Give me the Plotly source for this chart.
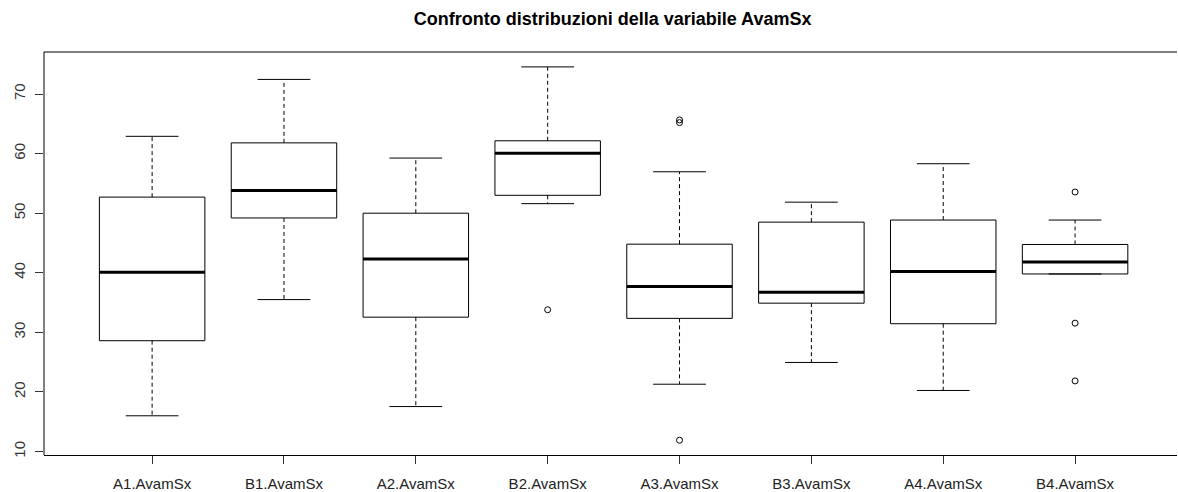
import plotly.graph_objects as go

# Summary statistics of AvamSx per group
categories = ["A1.AvamSx", "B1.AvamSx", "A2.AvamSx", "B2.AvamSx",
              "A3.AvamSx", "B3.AvamSx", "A4.AvamSx", "B4.AvamSx"]
whisker_low = [16.0, 35.5, 17.55, 51.6, 21.3, 24.95, 20.25, 39.8]
q1 = [28.6, 49.2, 32.55, 53.0, 32.35, 34.9, 31.45, 39.8]
median = [40.1, 53.8, 42.3, 60.05, 37.7, 36.75, 40.2, 41.8]
q3 = [52.7, 61.8, 50.0, 62.15, 44.8, 48.5, 48.85, 44.75]
whisker_high = [62.9, 72.45, 59.25, 74.55, 56.95, 51.85, 58.3, 48.85]
outliers = [[], [], [], [33.8], [65.2, 65.65, 11.9], [], [], [53.55, 31.55, 21.85]]

yticks = [10, 20, 30, 40, 50, 60, 70]

BOX_HALF = 0.4
CAP_HALF = 0.2
positions = list(range(1, len(categories) + 1))

box_x, box_y = [], []
med_x, med_y = [], []
wh_x, wh_y = [], []
cap_x, cap_y = [], []
out_x, out_y = [], []
for p, lo, a, m, b, hi, outs in zip(positions, whisker_low, q1, median, q3,
                                     whisker_high, outliers):
    box_x += [p - BOX_HALF, p + BOX_HALF, p + BOX_HALF, p - BOX_HALF, p - BOX_HALF, None]
    box_y += [a, a, b, b, a, None]
    med_x += [p - BOX_HALF, p + BOX_HALF, None]
    med_y += [m, m, None]
    if hi > b:
        wh_x += [p, p, None]
        wh_y += [b, hi, None]
    if lo < a:
        wh_x += [p, p, None]
        wh_y += [a, lo, None]
    cap_x += [p - CAP_HALF, p + CAP_HALF, None, p - CAP_HALF, p + CAP_HALF, None]
    cap_y += [hi, hi, None, lo, lo, None]
    out_x += [p] * len(outs)
    out_y += outs

fig = go.Figure()
fig.add_trace(go.Scatter(x=wh_x, y=wh_y, mode="lines",
                         line=dict(color="#000000", width=1, dash="4px,3px"),
                         hoverinfo="skip"))
fig.add_trace(go.Scatter(x=cap_x, y=cap_y, mode="lines",
                         line=dict(color="#000000", width=1), hoverinfo="skip"))
fig.add_trace(go.Scatter(x=box_x, y=box_y, mode="lines",
                         line=dict(color="#000000", width=1), hoverinfo="skip"))
fig.add_trace(go.Scatter(x=med_x, y=med_y, mode="lines",
                         line=dict(color="#000000", width=3), hoverinfo="skip"))
fig.add_trace(go.Scatter(x=out_x, y=out_y, mode="markers",
                         marker=dict(symbol="circle-open", size=6,
                                     color="#000000", line=dict(width=1))))

frame = dict(color="#000000", width=1)
fig.update_layout(
    width=1178, height=492,
    margin=dict(l=44, r=1, t=52, b=37, autoexpand=False),
    paper_bgcolor="white", plot_bgcolor="white",
    showlegend=False,
    font=dict(family="Liberation Sans, Arial, sans-serif", size=15, color="#222222"),
    title=dict(text="<b>Confronto distribuzioni della variabile AvamSx</b>",
               x=0.52, xanchor="center", y=0.963, yanchor="middle",
               font=dict(size=18, color="#000000")),
    # plotting frame: top and left edges
    shapes=[
        dict(type="line", xref="paper", yref="paper", x0=0, x1=1, y0=1, y1=1, line=frame),
        dict(type="line", xref="paper", yref="paper", x0=0, x1=0, y0=0, y1=1, line=frame),
    ],
)
fig.update_xaxes(
    range=[0.18, 8.773], tickmode="array", tickvals=positions, ticktext=categories,
    showgrid=False, zeroline=False, showline=True, mirror=False, automargin=False,
    linecolor="#000000", linewidth=1, ticks="outside", ticklen=8,
    tickcolor="#333333", ticklabelstandoff=7,
)
fig.update_yaxes(
    range=[9.42, 77.05], tickmode="array", tickvals=yticks,
    ticktext=[str(v) for v in yticks], tickangle=-90, automargin=False,
    showgrid=False, zeroline=False, showline=False,
    ticks="outside", ticklen=8, tickcolor="#333333", ticklabelstandoff=4,
    tickfont=dict(size=15, color="#333333"),
)

fig.write_html("out.html")
